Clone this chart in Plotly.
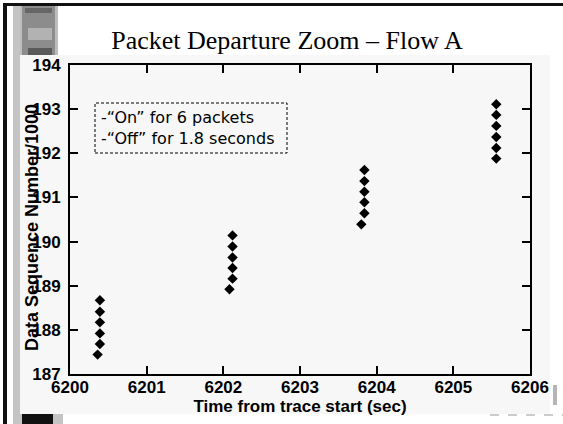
import plotly.graph_objects as go

# ---- data ----
time_sec = [6200.36, 6200.39, 6200.39, 6200.39, 6200.39, 6200.39,
            6202.08, 6202.12, 6202.12, 6202.12, 6202.12, 6202.12,
            6203.80, 6203.84, 6203.84, 6203.84, 6203.84, 6203.84,
            6205.56, 6205.56, 6205.56, 6205.56, 6205.56, 6205.56]
seq_k = [187.44, 187.68, 187.92, 188.17, 188.41, 188.67,
         188.92, 189.16, 189.40, 189.64, 189.89, 190.14,
         190.39, 190.64, 190.89, 191.13, 191.37, 191.62,
         191.88, 192.12, 192.37, 192.62, 192.87, 193.11]
x_ticks = [6200, 6201, 6202, 6203, 6204, 6205, 6206]
y_ticks = [187, 188, 189, 190, 191, 192, 193, 194]

W, H = 563, 424
L, R, T, B = 70, 530, 65, 374


def px(x):
    return (x - L) / (R - L)


def py(y):
    return (B - y) / (B - T)


def rect(x0, y0, x1, y1, color, layer="below"):
    return dict(type="rect", xref="paper", yref="paper",
                x0=px(x0), x1=px(x1), y0=py(y1), y1=py(y0),
                fillcolor=color, layer=layer, line=dict(width=0))


fig = go.Figure()
fig.add_trace(go.Scatter(
    x=time_sec, y=seq_k, mode="markers",
    marker=dict(symbol="diamond", size=8, color="black"),
    showlegend=False, hoverinfo="x+y"))

axis_common = dict(
    showgrid=False, zeroline=False, showline=True, linecolor="black",
    linewidth=2, mirror="ticks", ticks="inside", ticklen=8, tickwidth=2,
    tickcolor="black",
    tickfont=dict(family="Liberation Sans, Arial", size=17, color="black",
                  weight="bold"),
)

fig.update_xaxes(range=[6200, 6206], tickvals=x_ticks,
                 ticktext=[str(v) for v in x_ticks],
                 ticklabelstandoff=-3,
                 title=dict(text="<b>Time from trace start (sec)</b>",
                            font=dict(family="Liberation Sans, Arial", size=17,
                                      color="black"), standoff=0),
                 **axis_common)
fig.update_yaxes(range=[187, 194], tickvals=y_ticks,
                 ticktext=[str(v) for v in y_ticks],
                 ticklabelstandoff=4,
                 **axis_common)

shapes = [
    # textured slide paper
    rect(18, 55, 550, 414, "#f7f7f7"),
    # left film strip
    rect(13, 6, 20, 424, "#c4c4c4"),
    rect(20, 6, 58, 55, "#bdbdbd"),
    rect(22, 6, 55, 55, "#8c8c8c"),
    rect(25, 8, 52, 13, "#666666"),
    rect(28, 28, 52, 40, "#b2b2b2"),
    rect(28, 48, 52, 55, "#5a5a5a"),
    rect(13, 414, 63, 424, "#c4c4c4"),
    rect(22, 414, 53, 424, "#111111"),
    # outer border
    rect(3, 3, 7, 424, "#111111"),
    rect(3, 3, 563, 6, "#111111"),
    # right bottom artefacts
    rect(553, 385, 557, 405, "#b5b5b5"),
    dict(type="line", xref="paper", yref="paper", x0=px(490), x1=px(563),
         y0=py(415), y1=py(415), layer="below",
         line=dict(color="#cccccc", width=2, dash="dash")),
    # dashed note box
    dict(type="rect", xref="paper", yref="paper",
         x0=px(95), x1=px(287), y0=py(153), y1=py(103),
         line=dict(color="black", width=1, dash="3px,2px"), layer="above"),
]

fig.update_layout(
    width=W, height=H,
    margin=dict(l=L, r=W - R, t=T, b=H - B),
    paper_bgcolor="white", plot_bgcolor="rgba(0,0,0,0)",
    shapes=shapes,
    title=dict(text="Packet Departure Zoom \u2013 Flow A",
               font=dict(family="Liberation Serif, Times New Roman", size=26,
                         color="black"),
               x=287 / W, xanchor="center", y=1 - 40 / H, yanchor="middle"),
    annotations=[
        dict(xref="paper", yref="paper", x=px(99), y=py(106),
             xanchor="left", yanchor="top", align="left",
             text="-\u201cOn\u201d for 6 packets<br>-\u201cOff\u201d for 1.8 seconds",
             font=dict(family="DejaVu Sans", size=16, color="black"),
             showarrow=False),
        dict(xref="paper", yref="paper", x=px(32), y=py(228),
             xanchor="center", yanchor="middle", textangle=-90,
             text="<b>Data Sequence Number/1000</b>",
             font=dict(family="Liberation Sans, Arial", size=18, color="black"),
             showarrow=False),
    ],
)

fig.write_html("out.html",
               config={"displayModeBar": False},
               post_script="document.body.style.margin='0px';"
                           "document.body.style.overflow='hidden';")
